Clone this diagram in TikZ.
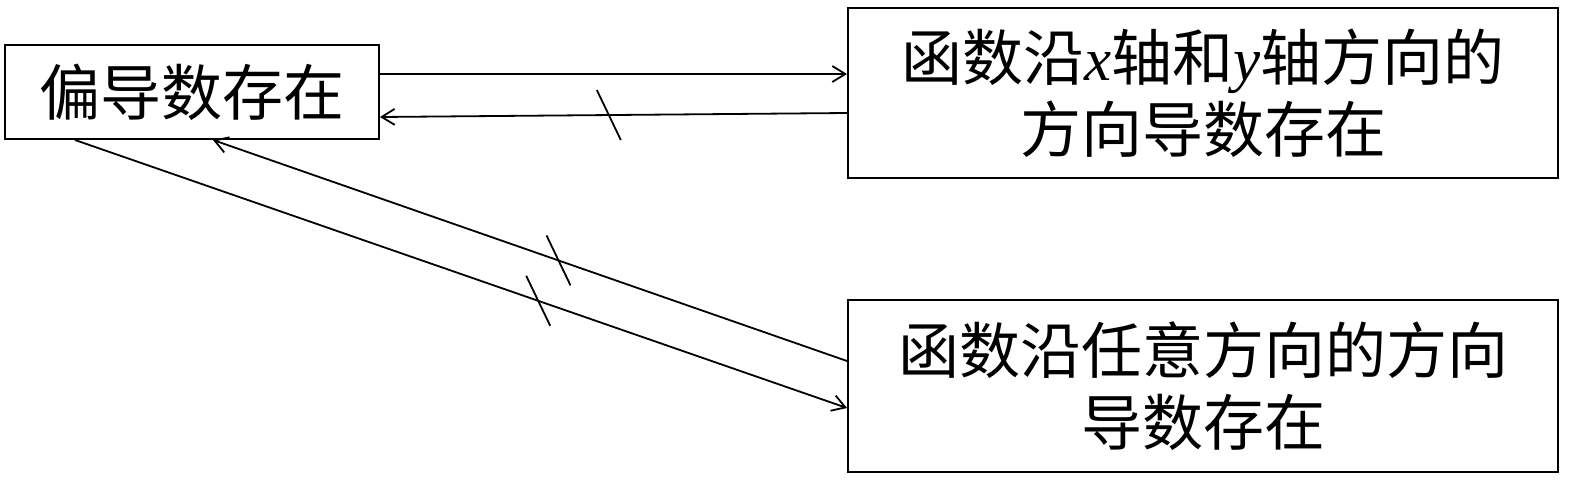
\documentclass[tikz,border=0pt]{standalone}
\usepackage{fontspec}
\setmainfont{Noto Sans CJK SC}
\newfontfamily\latinfont{Liberation Serif}
\usetikzlibrary{arrows.meta,calc}

\begin{document}
\begin{tikzpicture}[x=1pt,y=-1pt,
        box/.style={draw,line width=2pt,inner sep=0pt,align=center,
            font=\fontsize{61}{72}\selectfont},
        link/.style={line width=1.8pt,
            -{Straight Barb[length=13pt,width=16pt,line width=1.8pt]}},
        slash/.style={line width=1.8pt}]
        \useasboundingbox (0,0) rectangle (1575,482);
        % Draw boxes (Nodes)
        \node[box,minimum width=374pt,minimum height=94pt] (pian) at (192,92) {偏导数存在};
        \node[box,minimum width=710pt,minimum height=170pt] (xy) at (1203,93)
            {函数沿{\latinfont\itshape x}轴和{\latinfont\itshape y}轴方向的\\方向导数存在};
        \node[box,minimum width=710pt,minimum height=172pt] (renyi) at (1203,386)
            {函数沿任意方向的方向\\导数存在};
        % Draw connects (Edges)
        \draw[link] ($(pian.east)+(0,-18)$) -- ($(xy.west)+(0,-19)$);
        \draw[link] ($(xy.west)+(0,20)$) -- ($(pian.east)+(0,25)$) coordinate[pos=.51] (s1);
        \draw[link] ($(pian.south)+(-117,0)$) -- ($(renyi.west)+(0,22)$) coordinate[pos=.6] (s2);
        \draw[link] ($(renyi.west)+(0,-25)$) -- ($(pian.south)+(21,0)$) coordinate[pos=.455] (s3);
        % Strike through the arrows that don't hold
        \foreach \s in {s1,s2,s3}{
            \draw[slash] ($(\s)+(-12,-25)$) -- ($(\s)+(12,25)$);
        }
    \end{tikzpicture}
\end{document}
